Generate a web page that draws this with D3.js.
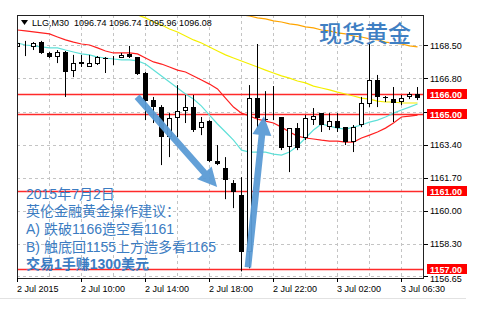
<!DOCTYPE html>
<html><head><meta charset="utf-8">
<script src="https://cdn.jsdelivr.net/npm/d3@7"></script>
<style>body{margin:0;background:#fff}svg{display:block}</style>
</head><body>
<svg id="c" width="482" height="316"></svg>
<script>
// ---- data (30-minute candles, index 0..50) ----
const opens = [1168.42,1168.47,1168.42,1168.67,1168.11,1167.90,1168.16,1167.18,1167.65,1167.39,
1167.54,1167.86,1167.84,1167.85,1168.06,1167.90,1167.08,1165.69,1165.33,1163.79,
1164.77,1165.13,1165.33,1164.25,1164.61,1162.55,1162.19,1161.42,1160.80,1157.87,
1165.79,1164.73,1164.75,1164.82,1163.27,1164.25,1163.74,1164.66,1165.02,1164.30,
1164.61,1164.30,1163.53,1164.41,1165.49,1166.72,1165.87,1165.74,1165.59,1165.85,1166.00];
const closes = [1168.62,1168.52,1168.62,1168.11,1167.90,1168.16,1167.13,1167.59,1167.54,1167.59,
1167.90,1167.84,1167.86,1168.01,1167.90,1167.03,1165.64,1165.33,1163.79,1164.77,
1165.13,1165.33,1164.15,1164.56,1162.55,1162.40,1161.58,1160.96,1157.87,1165.79,
1164.77,1164.71,1164.77,1163.22,1164.25,1163.22,1164.77,1164.87,1164.41,1164.61,
1164.25,1163.53,1164.30,1165.54,1166.72,1165.85,1165.85,1165.54,1165.79,1166.00,1165.79];
const highs = [1168.78,1168.73,1168.67,1168.73,1168.16,1168.26,1168.21,1168.01,1168.01,1168.01,
1167.95,1167.90,1167.95,1168.11,1168.47,1167.90,1167.13,1165.85,1165.43,1165.02,
1166.46,1165.95,1165.95,1164.82,1164.66,1163.38,1162.76,1161.58,1161.73,1166.46,
1168.57,1166.15,1166.41,1164.82,1164.25,1164.51,1164.92,1165.28,1165.02,1165.02,
1165.02,1164.30,1164.41,1165.85,1168.62,1166.98,1165.90,1166.36,1165.95,1166.10,1166.36];
const lows = [1168.26,1167.95,1168.26,1168.06,1167.85,1167.59,1165.85,1166.87,1167.39,1167.39,
1167.49,1167.08,1167.49,1167.85,1167.85,1166.98,1164.66,1164.51,1162.35,1162.76,
1163.79,1164.51,1164.05,1163.89,1162.50,1162.35,1160.60,1160.14,1156.89,1157.05,
1164.25,1164.61,1164.66,1163.12,1161.99,1163.12,1163.63,1164.41,1164.05,1164.15,
1164.05,1163.38,1163.02,1164.30,1165.33,1165.33,1165.59,1164.56,1165.43,1165.74,1165.69];

const maRed = [1169.29,1169.24,1169.19,1169.14,1169.09,1168.93,1168.78,1168.67,1168.57,1168.52,
1168.37,1168.21,1168.11,1168.11,1168.11,1168.06,1167.85,1167.65,1167.54,1167.39,
1167.23,1167.13,1166.93,1166.72,1166.51,1166.26,1165.79,1165.33,1165.02,1164.87,
1164.71,1164.61,1164.51,1164.30,1164.05,1163.84,1163.74,1163.69,1163.63,1163.58,
1163.58,1163.53,1163.53,1163.74,1163.89,1164.05,1164.25,1164.51,1164.82,1164.87,1164.92];
const maCyan = [1168.62,1168.52,1168.47,1168.42,1168.37,1168.37,1168.26,1168.16,1168.06,1168.01,
1167.90,1167.85,1167.80,1167.75,1167.75,1167.70,1167.54,1167.23,1166.93,1166.62,
1166.31,1166.00,1165.74,1165.38,1164.92,1164.46,1164.05,1163.63,1163.12,1163.02,
1163.02,1163.02,1162.91,1162.86,1163.02,1163.33,1163.74,1164.15,1164.46,1164.35,
1164.25,1164.20,1164.30,1164.41,1164.56,1164.66,1164.82,1165.02,1165.18,1165.33,1165.49];
const yellowStart = 14;
const maYellow = [1170.22,1170.06,1169.91,1169.70,1169.55,1169.34,1169.19,1168.98,1168.78,1168.62,
1168.42,1168.21,1168.01,1167.85,1167.70,1167.54,1167.39,1167.23,1167.08,1166.93,
1166.82,1166.67,1166.57,1166.41,1166.31,1166.21,1166.10,1166.00,1165.90,1165.79,
1165.74,1165.64,1165.59,1165.59,1165.54,1165.54,1165.54];
const orangeStart = 27;
const maOrange = [1170.12,1170.06,1170.01,1169.91,1169.86,1169.76,1169.70,1169.60,1169.55,1169.45,
1169.40,1169.29,1169.24,1169.14,1169.09,1168.98,1168.93,1168.83,1168.78,1168.67,
1168.62,1168.57,1168.47,1168.42];

const yTicks = [1168.50,1166.80,1165.10,1163.40,1161.70,1160.00,1158.30,1156.65];
const yLabelTicks = [1168.50,1166.80,1163.40,1161.70,1160.00,1158.30,1156.65]; // 1165.10 hidden behind 1165.00 marker
const levels = [1166.00,1165.00,1161.00,1157.00];
const xTickIdx = [0,8,16,24,32,40,48];
const xTickLabels = ["2 Jul 2015","2 Jul 10:00","2 Jul 14:00","2 Jul 18:00","2 Jul 22:00","3 Jul 02:00","3 Jul 06:30"];
const xGridIdx = [4,8,12,16,20,24,28,32,36,40,44,48];
const header = "LLG,M30  1096.74 1096.74 1095.96 1096.08";
const title = "现货黄金";
const notes = ["2015年7月2日","英伦金融黄金操作建议：","A) 跌破1166造空看1161","B) 触底回1155上方造多看1165","交易1手赚1300美元"];
// arrows in (bar index, price)
const arrows = [
  {from:[14.95,1165.86], to:[24.95,1161.22]},
  {from:[28.8,1157.10], to:[30.8,1164.86]}
];

// ---- drawing ----
const svg = d3.select("#c");
const L=17, R=424, T=15, B=278;
const x = d3.scaleLinear().domain([0,50]).range([17.5,417.5]);
const y = d3.scaleLinear().domain([1156.55,1170.06]).range([B,T]);
const font = "'Liberation Sans', Arial, sans-serif";

svg.append("defs").append("clipPath").attr("id","clip")
  .append("rect").attr("x",L).attr("y",T).attr("width",R-L).attr("height",B-T);

const g = svg.append("g").attr("clip-path","url(#clip)");

// grid
g.selectAll(".hg").data(yTicks).join("line")
  .attr("x1",L).attr("x2",R)
  .attr("y1",d=>Math.round(y(d))+0.5).attr("y2",d=>Math.round(y(d))+0.5)
  .attr("stroke","#c4c4c4").attr("stroke-dasharray","3,3");
g.selectAll(".vg").data(xGridIdx).join("line")
  .attr("x1",d=>x(d)).attr("x2",d=>x(d)).attr("y1",T).attr("y2",B)
  .attr("stroke","#c4c4c4").attr("stroke-dasharray","3,3");

// level lines
g.selectAll(".lv").data(levels).join("line")
  .attr("x1",L).attr("x2",R)
  .attr("y1",d=>Math.round(y(d))+0.5).attr("y2",d=>Math.round(y(d))+0.5)
  .attr("stroke","#ff2a2a").attr("stroke-width",1.4);

// moving averages
const line = d3.line().x(d=>x(d[0])).y(d=>y(d[1]));
function ma(arr,start,color){
  g.append("path").attr("d",line(arr.map((v,i)=>[i+start,v])))
   .attr("fill","none").attr("stroke",color).attr("stroke-width",1.2);
}
ma(maOrange,orangeStart,"#ffa500");
ma(maYellow,yellowStart,"#f5ef00");
ma(maRed,0,"#ff2020");
ma(maCyan,0,"#5fe0d8");

// candles
const idx = d3.range(opens.length);
g.selectAll(".wick").data(idx).join("line")
  .attr("x1",i=>x(i)).attr("x2",i=>x(i))
  .attr("y1",i=>y(highs[i])).attr("y2",i=>y(lows[i]))
  .attr("stroke","#000").attr("stroke-width",1);
idx.forEach(i=>{
  const o=opens[i], c=closes[i];
  const top=Math.round(y(Math.max(o,c))), bot=Math.round(y(Math.min(o,c)));
  const h=Math.max(bot-top,1);
  if (c>=o) {
    g.append("rect").attr("x",x(i)-2).attr("y",top+0.5).attr("width",4).attr("height",Math.max(h-1,0))
     .attr("fill","#fff").attr("stroke","#000").attr("stroke-width",1);
  } else {
    g.append("rect").attr("x",x(i)-2.5).attr("y",top).attr("width",5).attr("height",h)
     .attr("fill","#000");
  }
});

// arrows
arrows.forEach(a=>{
  const x0=x(a.from[0]), y0=y(a.from[1]), x1=x(a.to[0]), y1=y(a.to[1]);
  const dx=x1-x0, dy=y1-y0, len=Math.hypot(dx,dy), ux=dx/len, uy=dy/len, px=-uy, py=ux;
  const sw=3.3, hl=19, hw=9.5;
  const bx=x1-ux*hl, by=y1-uy*hl;
  const pts=[[x0+px*sw,y0+py*sw],[bx+px*sw,by+py*sw],[bx+px*hw,by+py*hw],[x1,y1],
             [bx-px*hw,by-py*hw],[bx-px*sw,by-py*sw],[x0-px*sw,y0-py*sw]];
  svg.append("polygon").attr("points",pts.map(p=>p.join(",")).join(" "))
    .attr("fill","#5b9bd5").attr("opacity",0.95);
});

// frame
svg.append("rect").attr("x",L+0.5).attr("y",T+0.5).attr("width",R-L-1).attr("height",B-T)
  .attr("fill","none").attr("stroke","#222");

// y-axis labels & ticks
svg.selectAll(".yt").data(yTicks).join("line")
  .attr("x1",R).attr("x2",R+4).attr("y1",d=>Math.round(y(d))+0.5).attr("y2",d=>Math.round(y(d))+0.5)
  .attr("stroke","#000");
svg.selectAll(".yl").data(yLabelTicks).join("text")
  .attr("x",R+6).attr("y",d=>d===1156.65 ? y(d)+5.5 : y(d)+3.5).text(d=>d.toFixed(2))
  .attr("font-family",font).attr("font-size",9).attr("fill","#000");

// x-axis
svg.selectAll(".xt").data(xTickIdx).join("line")
  .attr("x1",i=>Math.floor(x(i))+0.5).attr("x2",i=>Math.floor(x(i))+0.5).attr("y1",B).attr("y2",B+4)
  .attr("stroke","#000");
svg.selectAll(".xl").data(xTickIdx).join("text")
  .attr("x",i=>Math.floor(x(i))).attr("y",B+14).text((d,k)=>xTickLabels[k])
  .attr("font-family",font).attr("font-size",9).attr("fill","#000");
svg.append("line").attr("x1",0).attr("x2",466).attr("y1",298.5).attr("y2",298.5).attr("stroke","#e2e2e2");

// level price boxes
levels.forEach(v=>{
  const yy=Math.round(y(v));
  svg.append("rect").attr("x",427).attr("y",yy-5).attr("width",40).attr("height",10).attr("fill","#ff0000");
  svg.append("text").attr("x",430).attr("y",yy+3.5).text(v.toFixed(2))
    .attr("font-family",font).attr("font-size",9).attr("fill","#fff").attr("font-weight","bold");
});

// header
svg.append("path").attr("d","M21,20 L28,20 L24.5,25 Z").attr("fill","#000");
svg.append("text").attr("x",32).attr("y",26).text(header)
  .style("white-space","pre").attr("font-family",font).attr("font-size",9).attr("fill","#000");

// title
svg.append("text").attr("x",319).attr("y",42).text(title)
  .attr("font-family","'Noto Sans CJK SC', sans-serif").attr("font-size",23).attr("font-weight",500)
  .attr("fill","#3f7fc3");

// notes
const ny=[199,216,234,252,269];
notes.forEach((t,k)=>{
  svg.append("text").attr("x",26).attr("y",ny[k]).text(t)
   .attr("font-family","'Liberation Sans','Noto Sans CJK SC',sans-serif").attr("font-size",14)
   .attr("font-weight",k===4?"bold":"normal").attr("fill","#3b7cc2");
});
</script>
</body></html>
